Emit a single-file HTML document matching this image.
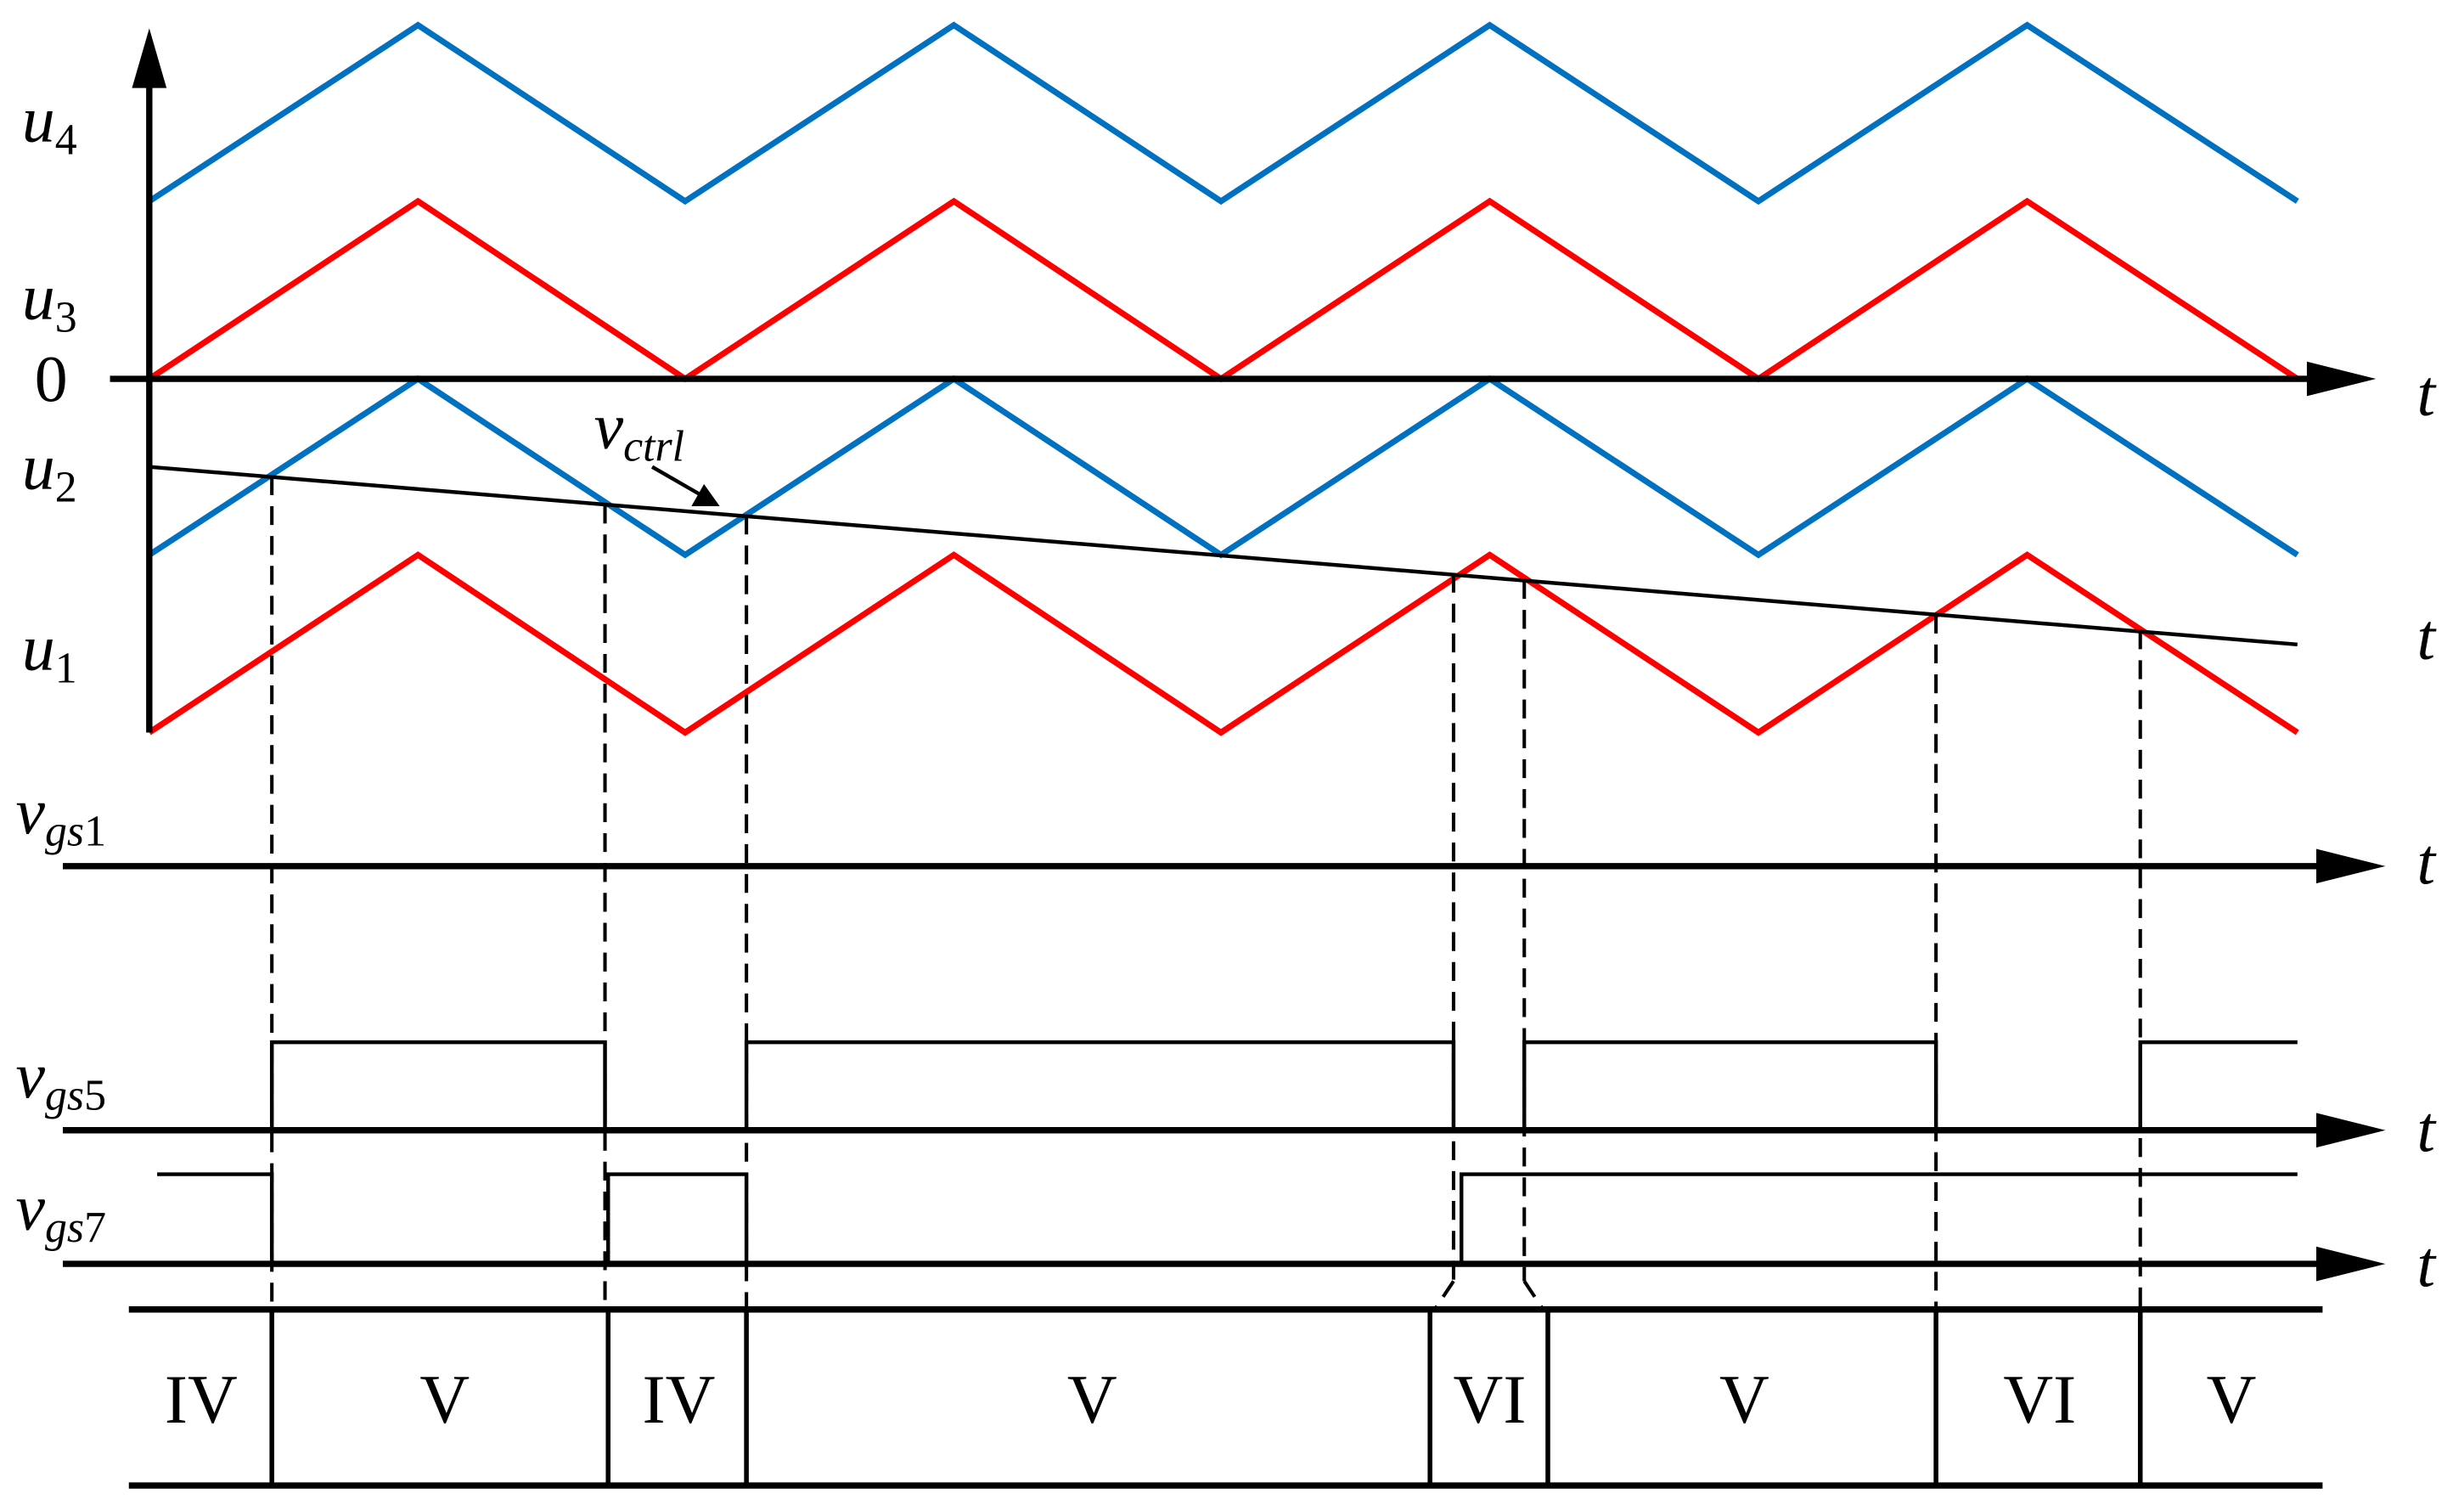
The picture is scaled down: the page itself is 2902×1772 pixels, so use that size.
<!DOCTYPE html>
<html><head><meta charset="utf-8"><style>
html,body{margin:0;padding:0;background:#fff;}
svg{display:block;}
text{font-family:"Liberation Serif",serif;}
.it{font-style:italic;}
</style></head><body>
<svg width="2902" height="1772" viewBox="0 0 1568 957.4" preserveAspectRatio="none" xmlns="http://www.w3.org/2000/svg">
<g fill="none" stroke-linejoin="miter">
<polyline stroke="#0070C0" stroke-width="3.8" points="95,128 266,16 436,128 607,16 777,128 948,16 1119,128 1290,16 1462,128"/>
<polyline stroke="#FF0000" stroke-width="3.8" points="95,241 266,128 436,241 607,128 777,241 948,128 1119,241 1290,128 1462,241"/>
<polyline stroke="#0070C0" stroke-width="3.8" points="95,353 266,241 436,353 607,241 777,353 948,241 1119,353 1290,241 1462,353"/>
<polyline stroke="#FF0000" stroke-width="3.8" points="95,466 266,353 436,466 607,353 777,466 948,353 1119,466 1290,353 1462,466"/>
<line x1="95" y1="297" x2="1462" y2="410" stroke="#000" stroke-width="2.4"/>
<line x1="95" y1="466" x2="95" y2="50" stroke="#000" stroke-width="4"/>
<line x1="70" y1="241" x2="1475" y2="241" stroke="#000" stroke-width="4"/>
<line x1="40" y1="551" x2="1480" y2="551" stroke="#000" stroke-width="4"/>
<line x1="40" y1="719" x2="1480" y2="719" stroke="#000" stroke-width="4"/>
<line x1="40" y1="804" x2="1480" y2="804" stroke="#000" stroke-width="4"/>
<line x1="82" y1="833" x2="1478" y2="833" stroke="#000" stroke-width="4"/>
<line x1="82" y1="945" x2="1478" y2="945" stroke="#000" stroke-width="4"/>
<g stroke="#000" stroke-width="2.2" stroke-dasharray="12,7">
<line x1="173" y1="303" x2="173" y2="833"/>
<line x1="385" y1="321" x2="385" y2="833"/>
<line x1="475" y1="328" x2="475" y2="833"/>
<line x1="925" y1="365" x2="925" y2="815"/>
<line x1="970" y1="369" x2="970" y2="815"/>
<line x1="1232" y1="391" x2="1232" y2="833"/>
<line x1="1362" y1="401" x2="1362" y2="833"/>
<polyline points="925,815 913,833"/>
<polyline points="970,815 982,833"/>
</g>
<g stroke="#000" stroke-width="2.4">
<polyline points="173,719 173,663 385,663 385,719"/>
<polyline points="475,719 475,663 925,663 925,719"/>
<polyline points="970,719 970,663 1232,663 1232,719"/>
<polyline points="1362,719 1362,663 1462,663"/>
<polyline points="100,747 173,747 173,804"/>
<polyline points="387,804 387,747 475,747 475,804"/>
<polyline points="930,804 930,747 1462,747"/>
</g>
<g stroke="#000" stroke-width="3">
<line x1="173" y1="833" x2="173" y2="945"/>
<line x1="387" y1="833" x2="387" y2="945"/>
<line x1="475" y1="833" x2="475" y2="945"/>
<line x1="910" y1="833" x2="910" y2="945"/>
<line x1="985" y1="833" x2="985" y2="945"/>
<line x1="1232" y1="833" x2="1232" y2="945"/>
<line x1="1362" y1="833" x2="1362" y2="945"/>
</g>
<line x1="415" y1="297" x2="448" y2="316" stroke="#000" stroke-width="2.4"/>
</g>
<g fill="#000">
<polygon points="95,18 84,56 106,56"/>
<polygon points="1512,241 1468,230 1468,252"/>
<polygon points="1518,551 1474,540 1474,562"/>
<polygon points="1518,719 1474,708 1474,730"/>
<polygon points="1518,804 1474,793 1474,815"/>
<polygon points="458,322 440,322 448,308"/>
</g>
<g font-size="42" fill="#000">
<text x="14" y="90" class="it">u<tspan font-size="28" dy="8" font-style="normal">4</tspan></text>
<text x="14" y="203" class="it">u<tspan font-size="28" dy="8" font-style="normal">3</tspan></text>
<text x="22" y="255">0</text>
<text x="14" y="311" class="it">u<tspan font-size="28" dy="8" font-style="normal">2</tspan></text>
<text x="14" y="426" class="it">u<tspan font-size="28" dy="8" font-style="normal">1</tspan></text>
<text x="378" y="285" class="it">v<tspan font-size="28" dy="8">ctrl</tspan></text>
<text x="10" y="530" class="it">v<tspan font-size="28" dy="8">gs</tspan><tspan font-style="normal" font-size="28">1</tspan></text>
<text x="10" y="698" class="it">v<tspan font-size="28" dy="8">gs</tspan><tspan font-style="normal" font-size="28">5</tspan></text>
<text x="10" y="782" class="it">v<tspan font-size="28" dy="8">gs</tspan><tspan font-style="normal" font-size="28">7</tspan></text>
<text x="1538" y="264" class="it">t</text>
<text x="1538" y="419" class="it">t</text>
<text x="1538" y="562" class="it">t</text>
<text x="1538" y="732" class="it">t</text>
<text x="1538" y="818" class="it">t</text>
</g>
<g font-size="44" fill="#000" text-anchor="middle">
<text x="128" y="905">IV</text>
<text x="283" y="905">V</text>
<text x="432" y="905">IV</text>
<text x="695" y="905">V</text>
<text x="948" y="905">VI</text>
<text x="1110" y="905">V</text>
<text x="1298" y="905">VI</text>
<text x="1420" y="905">V</text>
</g>
</svg>
</body></html>
